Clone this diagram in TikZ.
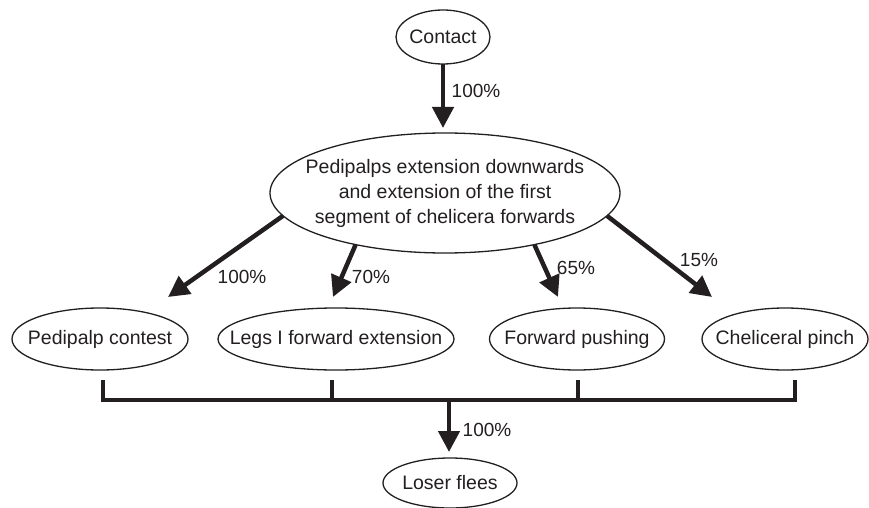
\documentclass[tikz,border=0pt]{standalone}
\usepackage{fontspec}
\setmainfont{Liberation Sans}
\usetikzlibrary{shapes.geometric,arrows.meta}
\definecolor{ink}{RGB}{35,31,32}
\begin{document}
\begin{tikzpicture}[x=1pt,y=-1pt,
  ell/.style={draw=ink, line width=1.3pt, ellipse, inner xsep=-60pt, inner ysep=0pt, outer sep=0pt,
    align=center, text=ink, font=\fontsize{19.5}{25}\selectfont},
  lab/.style={inner sep=0pt, text=ink, font=\fontsize{19}{23}\selectfont},
  arr/.style={draw=ink, line width=4.5pt, -{Triangle[width=21pt,length=21pt]}},
  brk/.style={draw=ink, line width=3.5pt}
]
\useasboundingbox (0,0) rectangle (869,508);
% nodes
\node[ell, minimum width=94pt, minimum height=54pt] (contact) at (443,37) {Contact};
\node[ell, minimum width=350pt, minimum height=120pt] (main) at (445,193)
  {Pedipalps extension downwards\\and extension of the first\\segment of chelicera forwards};
\node[ell, minimum width=176pt, minimum height=62pt] (ped) at (100,339) {Pedipalp contest};
\node[ell, minimum width=236pt, minimum height=62pt] (legs) at (336,339) {Legs I forward extension};
\node[ell, minimum width=175pt, minimum height=62pt] (fp) at (577,339) {Forward pushing};
\node[ell, minimum width=166pt, minimum height=62pt] (chel) at (785,339) {Cheliceral pinch};
\node[ell, minimum width=134pt, minimum height=50pt] (loser) at (450,483) {Loser flees};
% labels
\node[lab] (l1) at (476,91) {100\%};
\node[lab] (l2) at (242,277) {100\%};
\node[lab] (l3) at (371,277) {70\%};
\node[lab] (l4) at (576,268) {65\%};
\node[lab] (l5) at (699,260) {15\%};
\node[lab] (l6) at (487,430) {100\%};
% arrows from contact
\path (contact.south |- main.north) coordinate (ctip);
\draw[arr] (contact.south) -- ([yshift=5pt]ctip);
% arrows from main
\draw[arr] (main.188) -- ([xshift=68pt,yshift=42pt]ped.center);
\draw[arr] (main.210.6) -- ([xshift=-3pt,yshift=42pt]legs.center);
\draw[arr] (main.330) -- ([xshift=-19pt,yshift=42pt]fp.center);
\draw[arr] (main.352) -- ([xshift=-73pt,yshift=42pt]chel.center);
% bracket
\coordinate (t1) at (103,380);
\coordinate (t2) at (332,380);
\coordinate (t3) at (578,380);
\coordinate (t4) at (795,380);
\coordinate (b1) at (103,400);
\coordinate (b4) at (795,400);
\coordinate (stem) at (449,400);
\draw[brk] (t1) -- (b1) -- (b4) -- (t4);
\draw[brk] (t2) -- (t2 |- b1);
\draw[brk] (t3) -- (t3 |- b1);
\draw[arr] (stem) -- ([yshift=6pt]stem |- loser.north);
\end{tikzpicture}
\end{document}
